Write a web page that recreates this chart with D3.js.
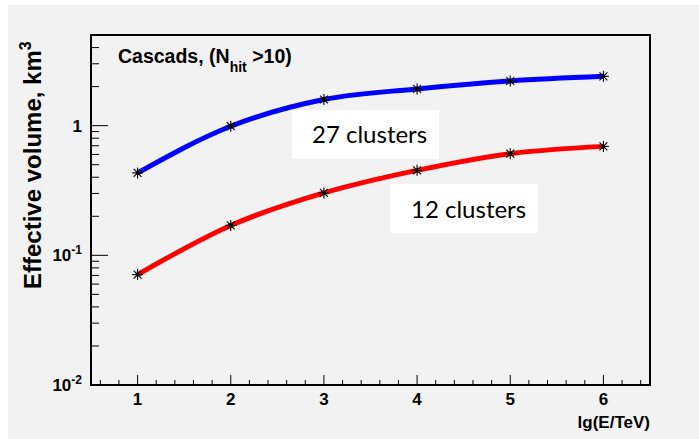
<!DOCTYPE html>
<html>
<head>
<meta charset="utf-8">
<script src="https://cdn.jsdelivr.net/npm/d3@7"></script>
<style>
  html, body { margin: 0; padding: 0; background: #ffffff; }
  svg { display: block; }
</style>
</head>
<body>
<svg id="chart" width="699" height="439"></svg>
<script>
// Energy points, lg(E/TeV)
const energies = [1, 2, 3, 4, 5, 6];
// Effective volume, km^3
const vol27 = [0.432, 0.99, 1.59, 1.92, 2.21, 2.40];
const vol12 = [0.071, 0.170, 0.303, 0.452, 0.608, 0.692];
const seriesNames = ["27 clusters", "12 clusters"];
const seriesColors = ["#0000ff", "#ff0000"];
const xTicks = [1, 2, 3, 4, 5, 6];
const yTicks = [0.01, 0.1, 1];
const yTickExp = ["-2", "-1", null];

const svg = d3.select("#chart");
const W = 699, H = 439;
const plot = { left: 91, right: 650, top: 35, bottom: 385 };

// page background
svg.append("rect").attr("x", 8).attr("y", 5).attr("width", W - 8).attr("height", H - 5)
  .attr("fill", "#f2f2f2");

const x = d3.scaleLinear().domain([0.5, 6.5]).range([plot.left, plot.right]);
const y = d3.scaleLog().domain([0.01, 5]).range([plot.bottom, plot.top]);

const axisFont = "'Liberation Sans', Arial, Helvetica, sans-serif";

// x ticks (inside, major + minor)
const xMinor = d3.range(0.6, 6.45, 0.2).filter(v => Math.abs(v - Math.round(v)) > 1e-6);
const gx = svg.append("g");
gx.selectAll("line.maj").data(xTicks).join("line")
  .attr("x1", d => x(d)).attr("x2", d => x(d))
  .attr("y1", plot.bottom).attr("y2", plot.bottom - 10)
  .attr("stroke", "#000").attr("stroke-width", 1);
gx.selectAll("line.min").data(xMinor).join("line")
  .attr("x1", d => x(d)).attr("x2", d => x(d))
  .attr("y1", plot.bottom).attr("y2", plot.bottom - 5)
  .attr("stroke", "#000").attr("stroke-width", 1);
gx.selectAll("text").data(xTicks).join("text")
  .attr("x", d => x(d)).attr("y", plot.bottom + 20)
  .attr("text-anchor", "middle")
  .attr("font-family", axisFont).attr("font-weight", "bold").attr("font-size", 17)
  .text(d => d);

// y ticks (inside, decades + minor 2..9)
const yMinor = [];
[0.01, 0.1, 1].forEach(dec => {
  for (let k = 2; k <= 9; k++) {
    const v = dec * k;
    if (v < 5) yMinor.push(v);
  }
});
const gy = svg.append("g");
gy.selectAll("line.maj").data(yTicks).join("line")
  .attr("x1", plot.left).attr("x2", plot.left + 17)
  .attr("y1", d => y(d)).attr("y2", d => y(d))
  .attr("stroke", "#000").attr("stroke-width", 1);
gy.selectAll("line.min").data(yMinor).join("line")
  .attr("x1", plot.left).attr("x2", plot.left + 8)
  .attr("y1", d => y(d)).attr("y2", d => y(d))
  .attr("stroke", "#000").attr("stroke-width", 1);
const yLab = gy.selectAll("text").data(yTicks).join("text")
  .attr("x", plot.left - 9).attr("y", d => y(d) + 6)
  .attr("text-anchor", "end")
  .attr("font-family", axisFont).attr("font-weight", "bold").attr("font-size", 17);
yLab.each(function(d, i) {
  const t = d3.select(this);
  if (yTickExp[i] === null) {
    t.text("1");
  } else {
    t.append("tspan").text("10");
    t.append("tspan").attr("dy", -7).attr("font-size", 12).text(yTickExp[i]);
  }
});

// frame
svg.append("rect")
  .attr("x", plot.left).attr("y", plot.top)
  .attr("width", plot.right - plot.left).attr("height", plot.bottom - plot.top)
  .attr("fill", "none").attr("stroke", "#000").attr("stroke-width", 2);

// axis titles
svg.append("text")
  .attr("x", plot.right).attr("y", 428)
  .attr("text-anchor", "end")
  .attr("font-family", axisFont).attr("font-weight", "bold").attr("font-size", 17)
  .text("lg(E/TeV)");

const yt = svg.append("text")
  .attr("transform", "translate(41,289) rotate(-90)")
  .attr("font-family", axisFont).attr("font-weight", "bold").attr("font-size", 24);
yt.append("tspan").text("Effective volume, km");
yt.append("tspan").attr("dy", -10).attr("font-size", 16).text("3");

// plot title
const title = svg.append("text")
  .attr("x", 118).attr("y", 63)
  .attr("font-family", axisFont).attr("font-weight", "bold").attr("font-size", 19.5);
title.append("tspan").text("Cascads, (N");
title.append("tspan").attr("dy", 9).attr("font-size", 14).text("hit");
title.append("tspan").attr("dy", -9).text(" >10)");

// curves
const series = [vol27, vol12];
const line = d3.line()
  .x((d, i) => x(energies[i]))
  .y(d => y(d))
  .curve(d3.curveMonotoneX);

series.forEach((vals, s) => {
  svg.append("path").datum(vals)
    .attr("d", line)
    .attr("fill", "none")
    .attr("stroke", seriesColors[s])
    .attr("stroke-width", 5)
    .attr("stroke-linejoin", "round");
});

// asterisk markers
series.forEach((vals, s) => {
  const g = svg.append("g");
  vals.forEach((v, i) => {
    const cx = x(energies[i]), cy = y(v), r = 5.5;
    const m = g.append("g").attr("transform", `translate(${cx},${cy})`);
    [[-r, 0, r, 0], [0, -r, 0, r], [-r * 0.72, -r * 0.72, r * 0.72, r * 0.72], [-r * 0.72, r * 0.72, r * 0.72, -r * 0.72]]
      .forEach(c => m.append("line")
        .attr("x1", c[0]).attr("y1", c[1]).attr("x2", c[2]).attr("y2", c[3])
        .attr("stroke", "#000").attr("stroke-width", 1.1));
    m.append("circle").attr("r", 2).attr("fill", "#000");
  });
});

// series labels on white boxes
const labelBoxes = [
  { x: 292, y: 110, w: 147, h: 49, tx: 312, ty: 143 },
  { x: 390, y: 184, w: 148, h: 49, tx: 411, ty: 218 }
];
seriesNames.forEach((name, s) => {
  const b = labelBoxes[s];
  svg.append("rect").attr("x", b.x).attr("y", b.y).attr("width", b.w).attr("height", b.h)
    .attr("fill", "#ffffff");
  svg.append("text").attr("x", b.tx).attr("y", b.ty)
    .attr("font-family", "Lato, 'Open Sans', sans-serif").attr("font-size", 24)
    .attr("fill", "#000")
    .text(name);
});
</script>
</body>
</html>
